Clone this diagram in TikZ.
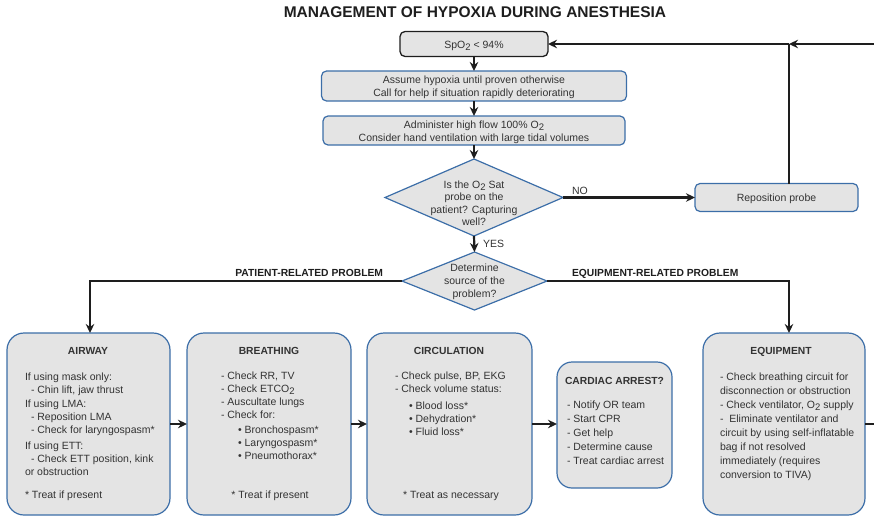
\documentclass[tikz,border=0pt]{standalone}
\usepackage{fontspec}
\setmainfont{Liberation Sans}
\usetikzlibrary{arrows.meta,shapes.geometric}
\definecolor{boxfill}{HTML}{E4E4E4}
\definecolor{boxblue}{HTML}{3C6EA8}
\definecolor{ink}{HTML}{1E1E1E}
\definecolor{txt}{HTML}{333333}
\newcommand{\lowtwo}{\raisebox{-2.6pt}{\fontsize{9.5}{9.5}\selectfont 2}}
\begin{document}
\begin{tikzpicture}[x=1pt,y=-1pt,
  every node/.style={inner sep=0pt, outer sep=0pt, text=txt},
  bodyfont/.style={font=\fontsize{10.5}{13}\selectfont},
  headfont/.style={font=\fontsize{10.3}{12}\selectfont\bfseries},
  topbox/.style={draw=boxblue, line width=1.2pt, fill=boxfill, rounded corners=5pt},
  startbox/.style={draw=ink, line width=1.3pt, fill=boxfill, rounded corners=5pt},
  bigbox/.style={draw=boxblue, line width=1.2pt, fill=boxfill, rounded corners=17pt},
  dia/.style={draw=boxblue, line width=1.2pt, fill=boxfill, diamond},
  conn/.style={draw=ink, line width=2.2pt},
  arr/.style={conn, -{Stealth[length=9pt,width=8.5pt]}},
]
\useasboundingbox (0,0) rectangle (874,517);

% title
\node[font=\fontsize{15.5}{18}\selectfont\bfseries, text=ink, anchor=base] (title) at (475,17) {MANAGEMENT OF HYPOXIA DURING ANESTHESIA};

% top chain
\node[startbox, minimum width=148pt, minimum height=25pt] (spo) at (474,44) {};
\node[bodyfont, anchor=base] (spot) at (474,48) {SpO\lowtwo{} < 94\%};

\node[topbox, minimum width=305pt, minimum height=30pt] (b2) at (474,86) {};
\node[bodyfont, anchor=base] (b2t) at (474,83) {\begin{tabular}[t]{@{}c@{}}Assume hypoxia until proven otherwise\\ Call for help if situation rapidly deteriorating\end{tabular}};

\node[topbox, minimum width=302pt, minimum height=29pt] (b3) at (474,130.5) {};
\node[bodyfont, anchor=base] (b3t) at (474,128) {\begin{tabular}[t]{@{}c@{}}Administer high flow 100\% O\lowtwo\\ Consider hand ventilation with large tidal volumes\end{tabular}};

\node[dia, minimum width=178pt, minimum height=77pt] (d1) at (474,197.5) {};
\node[font=\fontsize{10.5}{12.6}\selectfont, anchor=base] (d1t) at (474,188) {\begin{tabular}[t]{@{}c@{}}Is the O\lowtwo{} Sat\\ probe on the\\ patient? Capturing\\ well?\end{tabular}};

\node[topbox, minimum width=163pt, minimum height=28pt] (repo) at (776.5,197.5) {};
\node[bodyfont, anchor=base] (repot) at (776.5,201) {Reposition probe};

\node[dia, minimum width=145pt, minimum height=58pt] (d2) at (474.5,281) {};
\node[bodyfont, anchor=base] (d2t) at (474.5,271) {\begin{tabular}[t]{@{}c@{}}Determine\\ source of the\\ problem?\end{tabular}};

% connectors top
\coordinate (J) at (789,44);
\coordinate (R) at (876,44);
\draw[arr] (spo.south) -- (spo.south |- b2.north);
\draw[arr] (b2.south) -- (b2.south |- b3.north);
\draw[arr] (b3.south) -- (d1.north);
\draw[arr] (d1.east) -- (d1.east -| repo.west);
\node[bodyfont, anchor=base west] (no) at (572,194) {NO};
\draw[conn] (J |- repo.north) -- (J);
\draw[arr] (R) -- (J);
\draw[arr] (J) -- (spo.east);
\draw[arr] (d1.south) -- (d2.north);
\node[bodyfont, anchor=base west] (yes) at (483,247) {YES};

% bottom boxes
\node[bigbox, minimum width=163pt, minimum height=182pt] (airway) at (88.5,424) {};
\node[bigbox, minimum width=164pt, minimum height=182pt] (breath) at (269,424) {};
\node[bigbox, minimum width=165pt, minimum height=182pt] (circ) at (449.5,424) {};
\node[bigbox, rounded corners=15pt, minimum width=115pt, minimum height=126pt] (card) at (614.5,425) {};
\node[bigbox, minimum width=162pt, minimum height=182pt] (equip) at (784,424) {};

% branch connectors
\draw[arr] (d2.west) -| ([xshift=1.5pt]airway.north);
\node[headfont, text=ink, anchor=base east] (plab) at (383,276) {PATIENT-RELATED PROBLEM};
\draw[arr] (d2.east) -| ([xshift=5pt]equip.north);
\node[headfont, text=ink, anchor=base west] (elab) at (572,276) {EQUIPMENT-RELATED PROBLEM};

\draw[arr] (airway.east) -- (breath.west);
\draw[arr] (breath.east) -- (circ.west);
\draw[arr] (circ.east) -- (circ.east -| card.west);
\coordinate (E) at (876,424);
\draw[conn] (equip.east) -- (E);

% AIRWAY text
\node[headfont, anchor=base] (airh) at (88,354) {AIRWAY};
\node[bodyfont, anchor=base west] (airt) at (25,380) {\begin{tabular}[t]{@{}l@{}}If using mask only:\\
\hspace*{6pt}- Chin lift, jaw thrust\\[1pt]
If using LMA:\\
\hspace*{6pt}- Reposition LMA\\
\hspace*{6pt}- Check for laryngospasm*\\[3pt]
If using ETT:\\
\hspace*{6pt}- Check ETT position, kink\\
or obstruction\end{tabular}};
\node[bodyfont, anchor=base west] (airn) at (25,498) {* Treat if present};

% BREATHING text
\node[headfont, anchor=base] (brh) at (269,354) {BREATHING};
\node[bodyfont, anchor=base west] (brt) at (221,379) {\begin{tabular}[t]{@{}l@{}}- Check RR, TV\\
- Check ETCO\lowtwo\\
- Auscultate lungs\\
- Check for:\\[2pt]
\hspace*{17pt}\textbullet\ Bronchospasm*\\
\hspace*{17pt}\textbullet\ Laryngospasm*\\
\hspace*{17pt}\textbullet\ Pneumothorax*\end{tabular}};
\node[bodyfont, anchor=base] (brn) at (270,498) {* Treat if present};

% CIRCULATION text
\node[headfont, anchor=base] (cih) at (449,354) {CIRCULATION};
\node[bodyfont, anchor=base west] (cit) at (395,379) {\begin{tabular}[t]{@{}l@{}}- Check pulse, BP, EKG\\
- Check volume status:\\[4pt]
\hspace*{14pt}\textbullet\ Blood loss*\\
\hspace*{14pt}\textbullet\ Dehydration*\\
\hspace*{14pt}\textbullet\ Fluid loss*\end{tabular}};
\node[bodyfont, anchor=base] (cin) at (451,498) {* Treat as necessary};

% CARDIAC ARREST text
\node[headfont, anchor=base west] (cah) at (565,384) {CARDIAC ARREST?};
\node[bodyfont, anchor=base west] (cat) at (567,408) {\begin{tabular}[t]{@{}l@{}}- Notify OR team\\[1.2pt]
- Start CPR\\[1.2pt]
- Get help\\[1.2pt]
- Determine cause\\[1.2pt]
- Treat cardiac arrest\end{tabular}};

% EQUIPMENT text
\node[headfont, anchor=base] (eqh) at (781,354) {EQUIPMENT};
\node[bodyfont, anchor=base west] (eqt) at (720,380) {\begin{tabular}[t]{@{}l@{}}- Check breathing circuit for\\[1pt]
disconnection or obstruction\\[1pt]
- Check ventilator, O\lowtwo{} supply\\[1pt]
-\ \ Eliminate ventilator and\\[1pt]
circuit by using self-inflatable\\[1pt]
bag if not resolved\\[1pt]
immediately (requires\\[1pt]
conversion to TIVA)\end{tabular}};
\end{tikzpicture}
\end{document}
